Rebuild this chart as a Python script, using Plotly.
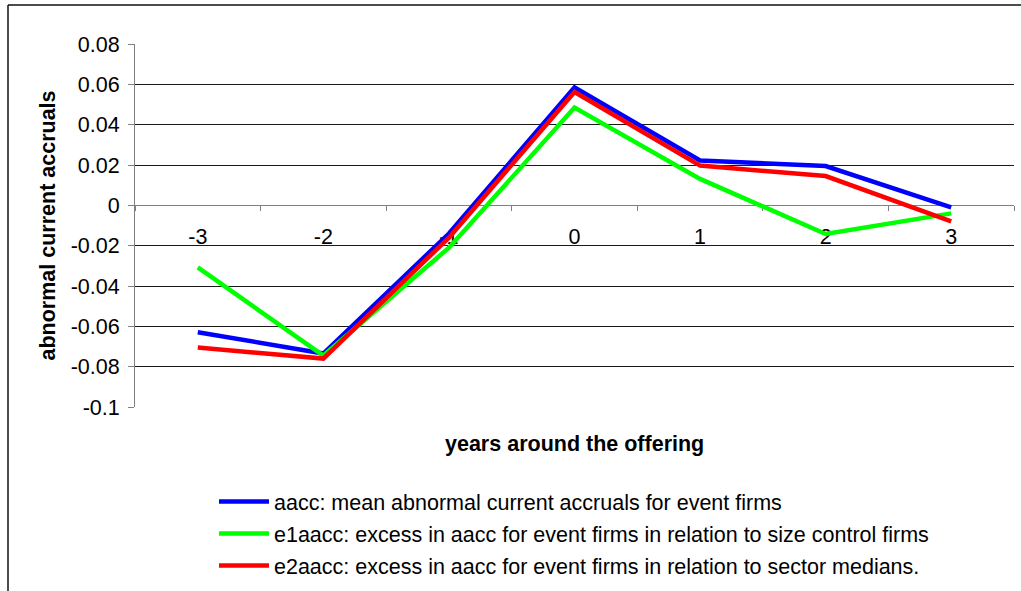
import plotly.graph_objects as go

# ---- data ----
years = ["-3", "-2", "-1", "0", "1", "2", "3"]
aacc = [-0.0629, -0.0735, -0.0140, 0.0585, 0.0222, 0.0195, -0.0010]
e1aacc = [-0.0308, -0.0745, -0.0210, 0.0485, 0.0131, -0.0142, -0.0040]
e2aacc = [-0.0705, -0.0760, -0.0160, 0.0562, 0.0197, 0.0145, -0.0080]

names = [
    "aacc: mean abnormal current accruals for event firms",
    "e1aacc: excess in aacc for event firms in relation to size control firms",
    "e2aacc: excess in aacc for event firms in relation to sector medians.",
]
colors = ["#0000FF", "#00FF00", "#FF0000"]

y_tickvals = [0.08, 0.06, 0.04, 0.02, 0.0, -0.02, -0.04, -0.06, -0.08, -0.1]
y_ticktext = ["0.08", "0.06", "0.04", "0.02", "0", "-0.02", "-0.04", "-0.06", "-0.08", "-0.1"]
y_range = [-0.1, 0.08]

# ---- layout geometry ----
W, H = 1021, 591
ML, MR, MT, MB = 135, 7, 44, 184
PW, PH = W - ML - MR, H - MT - MB
FONT = "Liberation Sans, Arial, sans-serif"
FS = 21.5


def px_x(px):
    return (px - ML) / PW


def px_y(py):
    return (H - MB - py) / PH


fig = go.Figure()
for i, (vals, nm, col) in enumerate(zip([aacc, e1aacc, e2aacc], names, colors)):
    fig.add_trace(go.Scatter(
        x=years, y=vals, name=nm, mode="lines",
        line=dict(color=col, width=4.5),
        legendgroup=f"g{i}",
    ))

zero_pos = (0 - y_range[0]) / (y_range[1] - y_range[0])

fig.update_layout(
    width=W, height=H,
    margin=dict(l=ML, r=MR, t=MT, b=MB, autoexpand=False),
    paper_bgcolor="white", plot_bgcolor="white",
    font=dict(family=FONT, size=FS, color="black"),
    showlegend=True,
    legend=dict(
        xref="container", yref="container",
        x=214 / W, y=1 - 481 / H,
        xanchor="left", yanchor="top",
        font=dict(family=FONT, size=FS, color="black"),
        traceorder="grouped", tracegroupgap=1,
        itemwidth=50,
        bgcolor="rgba(0,0,0,0)",
    ),
    xaxis=dict(
        type="category",
        range=[-0.5, len(years) - 0.5],
        anchor="free", position=zero_pos,
        showgrid=False, zeroline=False,
        showline=True, linecolor="#808080", linewidth=1,
        ticks="outside", tickson="boundaries", ticklen=5, tickcolor="#808080",
        ticklabelstandoff=12,
        layer="below traces",
        tickfont=dict(family=FONT, size=FS, color="black"),
    ),
    yaxis=dict(
        range=y_range,
        tickvals=y_tickvals, ticktext=y_ticktext,
        showgrid=True, gridcolor="#1a1a1a", gridwidth=1,
        zeroline=False,
        showline=True, linecolor="#808080", linewidth=1,
        ticks="outside", ticklen=6, tickcolor="#808080",
        ticklabelstandoff=4,
        tickfont=dict(family=FONT, size=FS, color="black"),
    ),
    annotations=[
        dict(text="<b>years around the offering</b>", xref="paper", yref="paper",
             x=0.5, y=px_y(444), xanchor="center", yanchor="middle",
             showarrow=False, font=dict(family=FONT, size=FS, color="black")),
        dict(text="<b>abnormal current accruals</b>", xref="paper", yref="paper",
             x=px_x(47), y=0.5, xanchor="center", yanchor="middle", textangle=-90,
             showarrow=False, font=dict(family=FONT, size=FS, color="black")),
    ],
    shapes=[
        dict(type="line", xref="paper", yref="paper",
             x0=px_x(8), x1=px_x(1040), y0=px_y(5), y1=px_y(5),
             line=dict(color="#111111", width=1.5)),
        dict(type="line", xref="paper", yref="paper",
             x0=px_x(8), x1=px_x(8), y0=px_y(5), y1=px_y(620),
             line=dict(color="#111111", width=1.5)),
    ],
)

fig.write_html("out.html")
